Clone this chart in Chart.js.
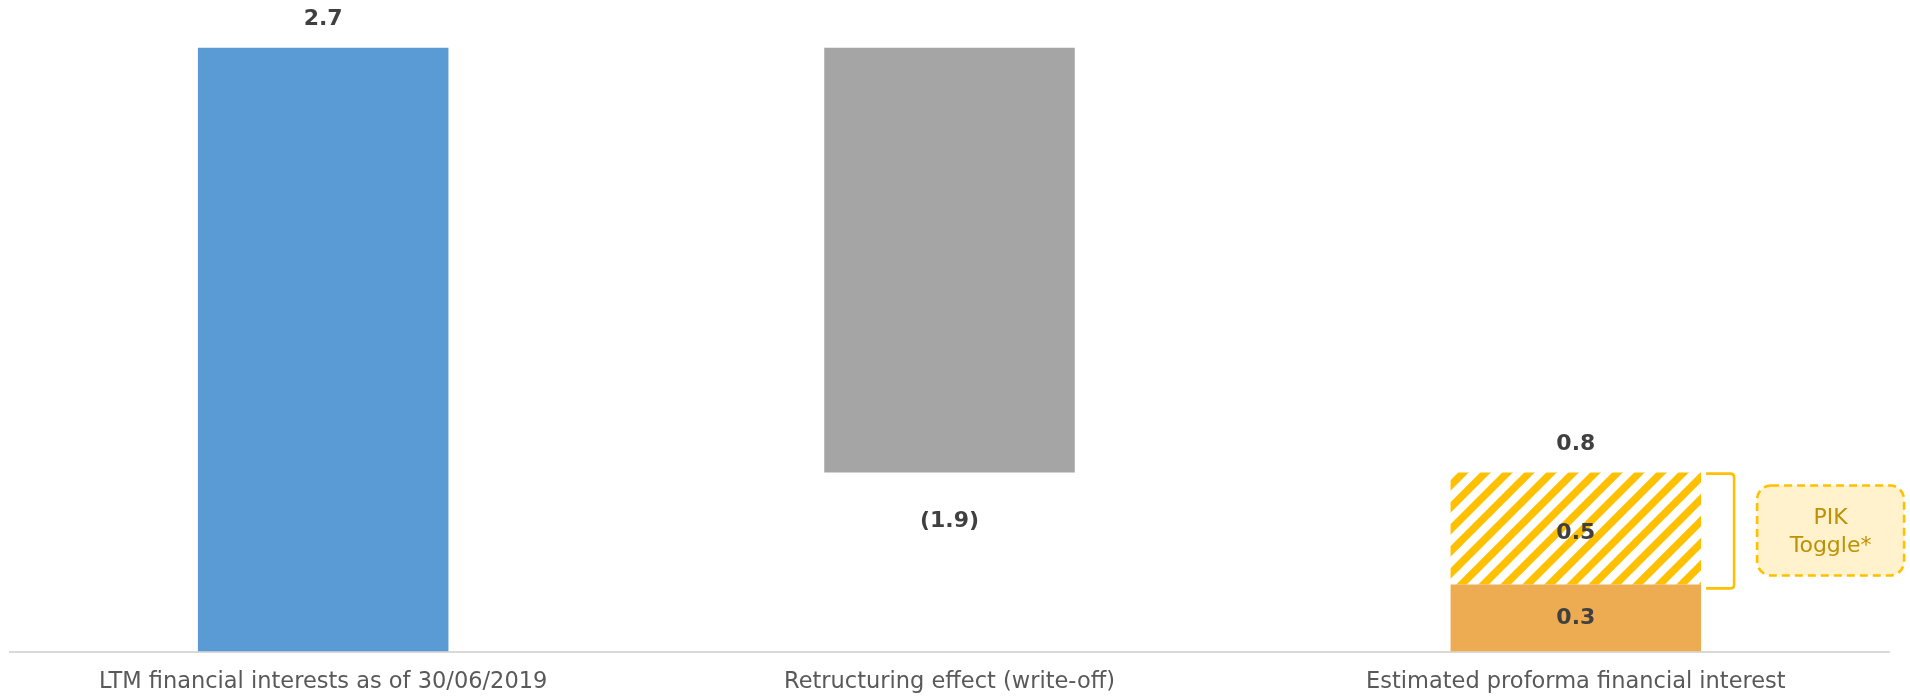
<!DOCTYPE html>
<html>
<head>
<meta charset="utf-8">
<title>Financial interest bridge</title>
<script src="https://cdn.jsdelivr.net/npm/chart.js@4/dist/chart.umd.min.js"></script>
<style>
  html, body { margin: 0; padding: 0; background: #ffffff; }
  canvas { display: block; }
</style>
</head>
<body>
<canvas id="chart" width="1910" height="699"></canvas>
<script>
// ---- data ----
const categories = [
  'LTM financial interests as of 30/06/2019',
  'Retructuring effect (write-off)',
  'Estimated proforma financial interest'
];
const ltmInterest  = [2.7, null, null];
const writeOff     = [null, -1.9, null];
const cashInterest = [null, null, 0.3];
const pikInterest  = [null, null, 0.5];
const pikNote      = ['PIK', 'Toggle*'];

// ---- derived floating ranges ----
const ltmLevel = ltmInterest.find(v => v != null);
const ltmBars = ltmInterest.map(v => v == null ? null : [0, v]);
const writeOffBars = writeOff.map(v => v == null ? null : [ltmLevel + v, ltmLevel]);
const cashBars = cashInterest.map(v => v == null ? null : [0, v]);
const pikBars = pikInterest.map((v, i) => v == null ? null : [cashInterest[i] || 0, (cashInterest[i] || 0) + v]);
const proformaTotals = pikInterest.map((v, i) => v == null ? null : (cashInterest[i] || 0) + v);

const FONT = "'DejaVu Sans', Verdana, sans-serif";
const fmt = v => v < 0 ? '(' + Math.abs(v).toFixed(1) + ')' : v.toFixed(1);

// diagonal stripe fill for the PIK part
function stripePattern(color) {
  const S = 22;
  const tile = document.createElement('canvas');
  tile.width = S; tile.height = S;
  const t = tile.getContext('2d');
  t.strokeStyle = color;
  t.lineWidth = 7.5;
  t.beginPath();
  t.moveTo(-S, S);  t.lineTo(S, -S);
  t.moveTo(0, S);   t.lineTo(S, 0);
  t.moveTo(0, 2*S); t.lineTo(2*S, 0);
  t.stroke();
  return document.getElementById('chart').getContext('2d').createPattern(tile, 'repeat');
}

// value labels on / around the bars
const barLabels = {
  id: 'barLabels',
  afterDatasetsDraw(chart) {
    const ctx = chart.ctx;
    ctx.save();
    ctx.font = 'bold 22px ' + FONT;
    ctx.fillStyle = '#404040';
    ctx.textAlign = 'center';
    ctx.textBaseline = 'middle';
    chart.data.datasets.forEach((ds, d) => {
      const meta = chart.getDatasetMeta(d);
      ds.values.forEach((v, i) => {
        if (v == null) return;
        const el = meta.data[i];
        const top = Math.min(el.y, el.base);
        const bottom = Math.max(el.y, el.base);
        let y;
        if (ds.labelPlace === 'above') y = top - 28;
        else if (ds.labelPlace === 'below') y = bottom + 49;
        else y = (top + bottom) / 2 + (ds.labelShift || 0);
        ctx.fillText(fmt(v), el.x, y);
        if (ds.totals && ds.totals[i] != null) {
          ctx.fillText(fmt(ds.totals[i]), el.x, top - 28);
        }
      });
    });
    ctx.restore();
  }
};

// bracket and note box beside the PIK segment
const pikCallout = {
  id: 'pikCallout',
  afterDatasetsDraw(chart) {
    const d = chart.data.datasets.findIndex(ds => ds.callout);
    if (d < 0) return;
    const meta = chart.getDatasetMeta(d);
    const i = chart.data.datasets[d].values.findIndex(v => v != null);
    const el = meta.data[i];
    const right = el.x + el.width / 2;
    const top = Math.min(el.y, el.base);
    const bottom = Math.max(el.y, el.base);
    const ctx = chart.ctx;
    ctx.save();
    // bracket
    const x0 = right + 5, x1 = right + 33, y0 = top + 1, y1 = bottom + 4, r = 4;
    ctx.strokeStyle = '#FFC000';
    ctx.lineWidth = 2.6;
    ctx.beginPath();
    ctx.moveTo(x0, y0);
    ctx.lineTo(x1 - r, y0);
    ctx.quadraticCurveTo(x1, y0, x1, y0 + r);
    ctx.lineTo(x1, y1 - r);
    ctx.quadraticCurveTo(x1, y1, x1 - r, y1);
    ctx.lineTo(x0, y1);
    ctx.stroke();
    // note box
    const cy = (top + bottom) / 2 + 2;
    const bx = right + 56, bw = 147, bh = 90, by = cy - bh / 2;
    ctx.beginPath();
    ctx.roundRect(bx, by, bw, bh, 14);
    ctx.fillStyle = '#FFF2CC';
    ctx.fill();
    ctx.setLineDash([8, 5]);
    ctx.lineWidth = 2.6;
    ctx.stroke();
    ctx.setLineDash([]);
    ctx.fillStyle = '#BF9000';
    ctx.font = '22px ' + FONT;
    ctx.textAlign = 'center';
    ctx.textBaseline = 'middle';
    ctx.fillText(pikNote[0], bx + bw / 2, cy - 12);
    ctx.fillText(pikNote[1], bx + bw / 2, cy + 16);
    ctx.restore();
  }
};

new Chart(document.getElementById('chart'), {
  type: 'bar',
  data: {
    labels: categories,
    datasets: [
      { data: ltmBars, values: ltmInterest, labelPlace: 'above', backgroundColor: '#5B9BD5' },
      { data: writeOffBars, values: writeOff, labelPlace: 'below', backgroundColor: '#A5A5A5' },
      { data: cashBars, values: cashInterest, labelPlace: 'center', backgroundColor: '#EEAC52' },
      { data: pikBars, values: pikInterest, labelPlace: 'center', labelShift: 5, totals: proformaTotals,
        callout: true, backgroundColor: stripePattern('#FFC000') }
    ]
  },
  options: {
    responsive: false,
    devicePixelRatio: 1,
    animation: false,
    barPercentage: 0.8,
    categoryPercentage: 0.5,
    borderWidth: 0,
    layout: { padding: { left: 10, right: 21, top: 3, bottom: -14.5 } },
    plugins: { legend: { display: false }, tooltip: { enabled: false } },
    scales: {
      x: {
        stacked: true,
        grid: { display: false, drawTicks: false },
        border: { display: true, color: '#D9D9D9', width: 2 },
        ticks: { color: '#595959', padding: 17.5, font: { family: FONT, size: 22.5 }, maxRotation: 0, autoSkip: false }
      },
      y: {
        display: false,
        stacked: false,
        min: 0,
        max: 2.9
      }
    }
  },
  plugins: [barLabels, pikCallout]
});
</script>
</body>
</html>
